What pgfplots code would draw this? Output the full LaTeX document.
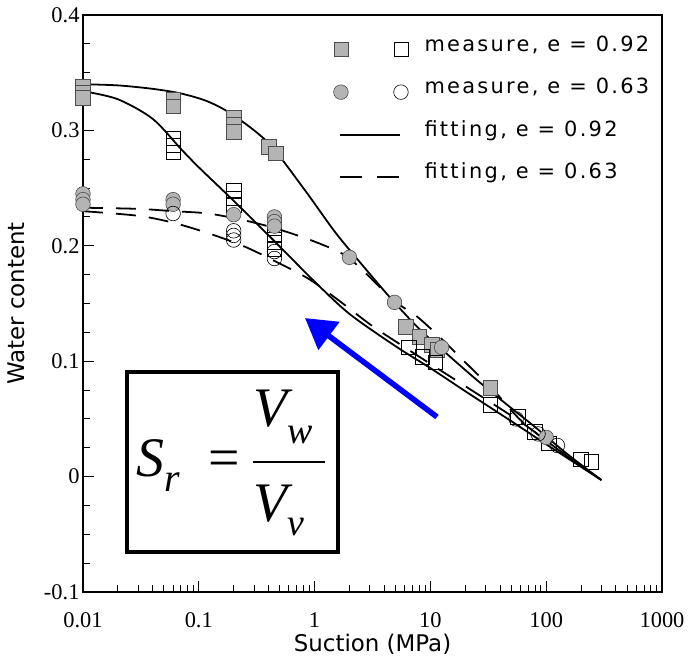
\documentclass[border=0pt]{standalone}
\usepackage{fontspec}
\usepackage{pgfplots}
\pgfplotsset{compat=1.18}
\usetikzlibrary{arrows.meta}
\setmainfont{Liberation Serif}
\newfontfamily\lab{DejaVu Sans}
\newfontfamily\leg[LetterSpace=11.0]{DejaVu Sans}
\newfontfamily\tms{Liberation Serif}
\definecolor{mgray}{RGB}{180,180,180}

\begin{document}
\begin{tikzpicture}
\begin{axis}[
  scale only axis, width=579bp, height=577bp,
  xmode=log, xmin=0.01, xmax=1000, ymin=-0.1, ymax=0.4,
  xtick={0.01,0.1,1,10,100,1000},
  xticklabels={0.01,0.1,1,10,100,1000},
  ytick={-0.1,0,0.1,0.2,0.3,0.4},
  yticklabels={-0.1,0,0.1,0.2,0.3,0.4},
  minor y tick num=3,
  tick align=inside, xtick pos=bottom, ytick pos=left,
  major tick length=11bp, minor tick length=7bp,
  axis line style={line width=1.6pt},
  every tick/.style={black, line width=0.9pt},
  tick label style={font=\fontsize{22.5}{24}\selectfont},
  yticklabel style={xshift=0bp},
  xticklabel style={yshift=-17bp},
  xlabel={Suction (MPa)}, ylabel={Water content},
  label style={font=\lab\fontsize{23}{26}\selectfont},
  xlabel style={at={(axis description cs:0.5,-0.09)}, anchor=center},
  ylabel style={at={(axis description cs:-0.115,0.5)}, anchor=center},
  clip=false,
  legend style={draw=none, fill=none, at={(0.432,0.962)}, anchor=north west,
    font=\leg\fontsize{21}{24}\selectfont, row sep=20.5bp, column sep=16bp,
    inner sep=0pt, nodes={inner sep=0pt, text height=14bp, text depth=4bp, anchor=base west}},
  legend cell align=left,
]
% legend images
\addlegendimage{legend image code/.code={
  \path[draw=none, fill=none] (0bp,-8bp) rectangle (75bp,8bp);
  \draw[fill=mgray, draw=black!70, line width=0.6pt] (0.5bp,-5.5bp) rectangle (14.5bp,8.5bp);
  \draw[black, fill=none, line width=0.6pt] (60.5bp,-5.5bp) rectangle (74.5bp,8.5bp);}}
\addlegendentry{measure, e = 0.92}
\addlegendimage{legend image code/.code={
  \path[draw=none, fill=none] (0bp,-8bp) rectangle (75bp,8bp);
  \draw[fill=mgray, draw=black!70, line width=0.6pt] (7.5bp,1.5bp) circle (7.3bp);
  \draw[black, fill=none, line width=0.6pt] (67.5bp,1.5bp) circle (7.3bp);}}
\addlegendentry{measure, e = 0.63}
\addlegendimage{legend image code/.code={
  \path[draw=none, fill=none] (0bp,-8bp) rectangle (75bp,8bp);
  \draw[black, line width=1.8pt] (7bp,1.5bp) -- (67bp,1.5bp);}}
\addlegendentry{fitting, e = 0.92}
\addlegendimage{legend image code/.code={
  \path[draw=none, fill=none] (0bp,-8bp) rectangle (75bp,8bp);
  \draw[black, line width=1.8pt] (7bp,1.5bp) -- (29bp,1.5bp) (44bp,1.5bp) -- (66bp,1.5bp);}}
\addlegendentry{fitting, e = 0.63}

% measured, e = 0.92 (filled squares)
\addplot[only marks, mark=square*, mark size=7.3bp, forget plot,
  mark options={fill=mgray, draw=black!70, line width=0.6pt}] coordinates {
  (0.01,0.338) (0.01,0.333) (0.01,0.328)
  (0.06,0.327) (0.06,0.321)
  (0.2,0.311) (0.2,0.305) (0.2,0.299)
  (0.40,0.286) (0.46,0.280)
  (6.1,0.130) (8.0,0.121) (10.3,0.114) (11.5,0.110)
  (33,0.077)
};
% measured, e = 0.92 (open squares)
\addplot[only marks, mark=square, mark size=7.3bp, forget plot,
  mark options={draw=black, line width=0.6pt}] coordinates {
  (0.06,0.293) (0.06,0.287) (0.06,0.281)
  (0.2,0.248) (0.2,0.241) (0.2,0.235)
  (0.45,0.218) (0.45,0.210) (0.45,0.203) (0.45,0.197)
  (6.5,0.112) (8.5,0.104) (11,0.099)
  (33,0.062) (57,0.052) (80,0.039) (105,0.029)
  (200,0.015) (245,0.013)
};
% measured, e = 0.63 (filled circles)
\addplot[only marks, mark=*, mark size=7.3bp, forget plot,
  mark options={fill=mgray, draw=black!70, line width=0.6pt}] coordinates {
  (0.01,0.245) (0.01,0.240) (0.01,0.236)
  (0.06,0.240) (0.06,0.236)
  (0.2,0.227)
  (0.45,0.225) (0.45,0.221) (0.45,0.217)
  (2.0,0.190) (4.9,0.151) (12.5,0.112) (100,0.034)
};
% measured, e = 0.63 (open circles)
\addplot[only marks, mark=o, mark size=7.3bp, forget plot,
  mark options={draw=black, line width=0.6pt}] coordinates {
  (0.06,0.228)
  (0.2,0.213) (0.2,0.209) (0.2,0.205)
  (0.45,0.195) (0.45,0.189)
  (55,0.050) (85,0.037) (125,0.027)
};

% fitting e = 0.92
\addplot[black, line width=1.8pt, smooth, tension=0.5, forget plot] coordinates {
  (0.01,0.340) (0.02,0.339) (0.04,0.336) (0.07,0.332) (0.12,0.325) (0.2,0.313)
  (0.4,0.289) (0.8,0.250) (1.5,0.212) (2.5,0.185) (4.5,0.155) (8,0.128)
  (14,0.106) (25,0.084) (45,0.063) (80,0.043) (150,0.020) (300,-0.003)
};
\addplot[black, line width=1.8pt, smooth, tension=0.5, forget plot] coordinates {
  (0.01,0.334) (0.02,0.327) (0.04,0.310) (0.07,0.284) (0.1,0.268) (0.2,0.239)
  (0.45,0.204) (1,0.169) (2,0.141) (5,0.113) (10,0.094) (20,0.074)
  (50,0.048) (100,0.028) (300,-0.003)
};
% fitting e = 0.63
\addplot[black, line width=1.8pt, smooth, tension=0.5, dash pattern=on 20bp off 13bp, forget plot] coordinates {
  (0.01,0.233) (0.03,0.232) (0.06,0.230) (0.12,0.228) (0.25,0.222) (0.5,0.214) (1.1,0.202)
  (2,0.189) (4.8,0.153) (7.6,0.139) (12,0.121) (20,0.099) (35,0.075)
  (63,0.047) (150,0.018) (300,-0.003)
};
\addplot[black, line width=1.8pt, smooth, tension=0.5, dash pattern=on 20bp off 13bp, forget plot] coordinates {
  (0.01,0.230) (0.03,0.226) (0.06,0.220) (0.12,0.211) (0.24,0.200) (0.47,0.186) (0.9,0.171)
  (1.65,0.152) (3.1,0.131) (5.8,0.113) (11,0.095) (21,0.077) (63,0.046)
  (150,0.018) (300,-0.003)
};

% annotations
\draw[blue, line width=5.5bp, -{Triangle[length=30bp, width=34bp]}]
  (axis cs:11.4,0.0517) -- (axis cs:0.826,0.1374);
\draw[black, line width=3.5bp] (axis cs:0.0240,0.0906) rectangle (axis cs:1.592,-0.0653);
\node[inner sep=0pt] at (axis cs:0.19,0.0127) {\tms\fontsize{56}{84}\selectfont\setlength{\arrayrulewidth}{2.5bp}%
  \itshape S\raisebox{-0.28em}{\fontsize{40}{40}\selectfont r}\hspace{0.5em}{\upshape =}\hspace{0.25em}%
  \raisebox{8bp}{\begin{tabular}[c]{@{}l@{}}\raisebox{9bp}{\makebox[72bp][l]{V\raisebox{-0.3em}{\fontsize{38}{38}\selectfont w}}}\\ \hline
  \makebox[72bp][l]{V\raisebox{-0.25em}{\fontsize{38}{38}\selectfont v}}\end{tabular}}};
\end{axis}
\pgfresetboundingbox
\path[use as bounding box] ([shift={(-83bp,-69bp)}]current axis.south west) rectangle ([shift={(26bp,15bp)}]current axis.north east);
\end{tikzpicture}
\end{document}
